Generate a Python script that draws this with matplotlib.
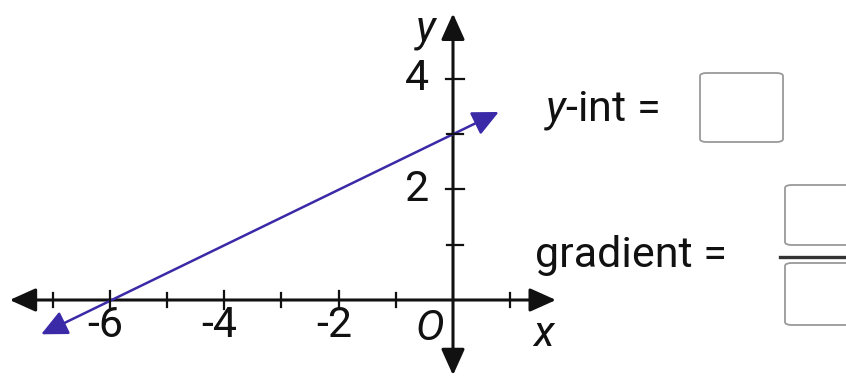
import numpy as np
import matplotlib.pyplot as plt
from matplotlib.patches import FancyArrowPatch, FancyBboxPatch
from matplotlib import rc

rc('font', family='Roboto')
rc('mathtext', fontset='custom', rm='Roboto', it='Roboto:italic')

# Line through (-6, 0) and (0, 3), drawn with arrow heads at both ends
line_x = [-7.2, 0.8]
line_y = [-0.62, 3.4]

# axes extent and ticks
x_axis = [-7.75, 1.8]
y_axis = [-1.36, 5.18]
x_ticks = [-7, -6, -5, -4, -3, -2, -1, 1]
x_labels = {-6: '-6', -4: '-4', -2: '-2'}
y_ticks = [1, 2, 3, 4]
y_labels = {2: '2', 4: '4'}

W, H = 846, 378
fig = plt.figure(figsize=(W / 100, H / 100), dpi=100)
ax = fig.add_axes([0, 0, 1, 1])
ax.set_xlim(-453 / 57.2, (W - 453) / 57.2)
ax.set_ylim(-(H - 300) / 55.3, 300 / 55.3)
ax.axis('off')

fs = 31
blk = '#111111'

# axes with arrows
arr = '<|-|>,head_length=0.8,head_width=0.36'
ax.add_patch(FancyArrowPatch((x_axis[0], 0), (x_axis[1], 0), arrowstyle=arr,
                             mutation_scale=20, lw=2.2, color=blk,
                             shrinkA=0, shrinkB=0))
ax.add_patch(FancyArrowPatch((0, y_axis[0]), (0, y_axis[1]), arrowstyle=arr,
                             mutation_scale=20, lw=2.2, color=blk,
                             shrinkA=0, shrinkB=0))

# tick marks
for t in x_ticks:
    h = 0.17 if t in x_labels else 0.13
    ax.plot([t, t], [-h, h], color=blk, lw=1.6)
for t in y_ticks:
    w = 0.2 if t in y_labels else 0.17
    ax.plot([-w * 0.6, w], [t, t], color=blk, lw=1.6)

# tick labels
for t, s in x_labels.items():
    ax.text(t - 0.08, -0.47, s, ha='center', va='center', fontsize=fs, color=blk)
for t, s in y_labels.items():
    ax.text(-0.63, t, s, ha='center', va='center', fontsize=fs, color=blk)

ax.text(-0.4, -0.52, 'O', ha='center', va='center', fontsize=fs,
        style='italic', color=blk)
ax.text(1.58, -0.63, 'x', ha='center', va='center', fontsize=fs,
        style='italic', color=blk)
ax.text(-0.48, 4.89, 'y', ha='center', va='center', fontsize=fs,
        style='italic', color=blk)

# the line
ax.add_patch(FancyArrowPatch((line_x[0], line_y[0]), (line_x[1], line_y[1]),
                             arrowstyle='<|-|>,head_length=0.8,head_width=0.38',
                             mutation_scale=20, lw=1.8, color='#3b2aa8',
                             shrinkA=0, shrinkB=0))

# answer panel
fig.text(544 / W, 1 - 110 / H, r'$y$-int =', ha='left', va='center',
         fontsize=fs, color=blk)
fig.text(535 / W, 1 - 255 / H, 'gradient =', ha='left', va='center',
         fontsize=fs, color=blk)


def box(x0, y0, x1, y1):
    p = FancyBboxPatch((x0 / W, 1 - y1 / H), (x1 - x0) / W, (y1 - y0) / H,
                       boxstyle='round,pad=0,rounding_size=0.008',
                       transform=fig.transFigure, fc='white', ec='#9a9a9a',
                       lw=1.3, clip_on=False)
    fig.add_artist(p)


box(700, 73, 783, 142)
box(785, 185, 860, 245)
box(785, 263, 860, 325)
fig.add_artist(plt.Line2D([780 / W, 1], [1 - 257 / H] * 2,
                          transform=fig.transFigure, color='#333333', lw=2.4))

plt.savefig('out.png', dpi=100)
